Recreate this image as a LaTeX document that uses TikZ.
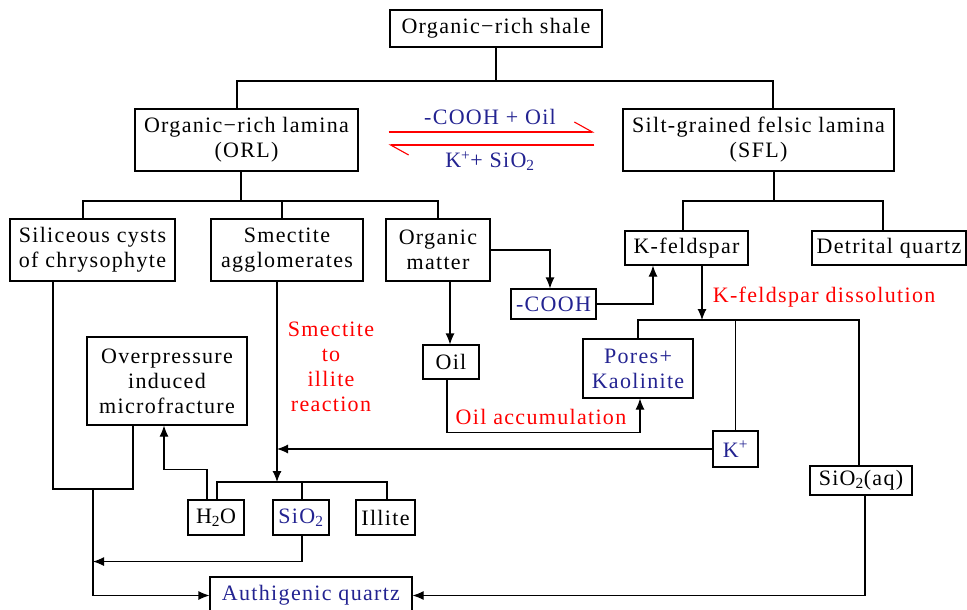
\documentclass[tikz,border=0pt]{standalone}
\usepackage{fontspec}
\setmainfont{Liberation Serif}[LetterSpace=6]
\usetikzlibrary{arrows.meta, calc}
\definecolor{ionblue}{RGB}{35,35,145}
\tikzset{box/.style={draw, rectangle, inner sep=0pt, align=center},
 arr/.style={-{Latex[length=11pt,width=9pt]}},
 harp/.style={red, -{Straight Barb[left,length=18pt,width=20pt]}},
 rxn/.style={text=red, align=center},
 ion/.style={text=ionblue}}

\begin{document}
\begin{tikzpicture}[x=1pt, y=-1pt, line width=1.1pt, font=\fontsize{22}{25}\selectfont]
 \useasboundingbox (0,0) rectangle (967,610);
 \node[box, minimum width=212, minimum height=37] (shale) at (496,28.5) {Organic−rich shale};
 \node[box, minimum width=223, minimum height=62] (orl) at (246.5,140) {Organic−rich lamina\\(ORL)};
 \node[box, minimum width=271, minimum height=62] (sfl) at (758.5,140) {Silt-grained felsic lamina\\(SFL)};
 \node[box, minimum width=165, minimum height=62] (cysts) at (92.5,250) {Siliceous cysts\\of chrysophyte};
 \node[box, minimum width=152, minimum height=62] (smect) at (287,250) {Smectite\\agglomerates};
 \node[box, minimum width=104, minimum height=62] (orgm) at (438,250) {Organic\\matter};
 \node[box, minimum width=123, minimum height=34] (kfsp) at (686.5,248) {K-feldspar};
 \node[box, minimum width=154, minimum height=34] (detq) at (889,248) {Detrital quartz};
 \node[box, ion, minimum width=85, minimum height=30] (cooh) at (553.5,304) {-COOH};
 \node[box, ion, minimum width=110, minimum height=59] (pores) at (638,368.5) {Pores+\\Kaolinite};
 \node[box, minimum width=56, minimum height=34] (oil) at (451,362) {Oil};
 \node[box, minimum width=160, minimum height=88] (overp) at (167,381) {Overpressure\\induced\\microfracture};
 \node[box, ion, minimum width=45, minimum height=36] (kion) at (735.5,449) {K\textsuperscript{+}};
 \node[box, minimum width=102, minimum height=29] (sioaq) at (861,480.5) {SiO\textsubscript{2}(aq)};
 \node[box, minimum width=56, minimum height=35] (water) at (216,517.5) {H\textsubscript{2}O};
 \node[box, ion, minimum width=56, minimum height=35] (silica) at (301,517.5) {SiO\textsubscript{2}};
 \node[box, minimum width=59, minimum height=35] (illite) at (385.5,517.5) {Illite};
 \node[box, ion, minimum width=202, minimum height=37] (quartz) at (311,595.5) {Authigenic quartz};

 \node[ion] (fwd) at (490,117) {-COOH + Oil};
 \node[ion] (bwd) at (490,161) {K\textsuperscript{+}+ SiO\textsubscript{2}};
 \node[rxn] (smill) at (331,367) {Smectite\\to\\illite\\reaction};
 \node[rxn, anchor=west] (kdis) at (709,297) {K-feldspar dissolution};
 \node[rxn] (oilacc) at (541,417) {Oil accumulation};

 \draw[harp, shorten <=30pt, shorten >=28pt] ([yshift=8pt]orl.east) -- ([yshift=8pt]sfl.west);
 \draw[harp, shorten <=28pt, shorten >=30pt] ([yshift=-5pt]sfl.west) -- ([yshift=-5pt]orl.east);

 \coordinate (bar1) at (496,81);
 \draw (shale.south) -- (bar1);
 \draw ([xshift=-9.5pt]orl.north) |- (bar1) -| ([xshift=14.5pt]sfl.north);

 \coordinate (bar2) at (241,201);
 \draw ([xshift=-5.5pt]orl.south) -- (bar2);
 \draw ([xshift=-9.5pt]cysts.north) |- (orgm.north |- bar2) -- (orgm.north);
 \draw ([xshift=-5pt]smect.north) -- ++(0,-18);

 \coordinate (bar2r) at (774,201);
 \draw ([xshift=15.5pt]sfl.south) -- (bar2r);
 \draw ([xshift=-3.5pt]kfsp.north) |- (bar2r) -| ([xshift=-6pt]detq.north);

 \draw[arr] (orgm.east) -| ([xshift=-3.5pt]cooh.north);
 \draw[arr] (cooh.east) -| ([xshift=-33.5pt]kfsp.south);

 \coordinate (bar3) at (702,320);
 \draw[arr] ([xshift=15.5pt]kfsp.south) -- (bar3);
 \draw (pores.north) |- ([xshift=-2pt]sioaq.north |- bar3) -- ([xshift=-2pt]sioaq.north);
 \draw (kion.north) -- (kion.north |- bar3);

 \draw[arr] ([xshift=12pt]orgm.south) -- ([xshift=12pt]orgm.south |- oil.north);
 \draw[arr] ([xshift=-4pt]oil.south) -- ++(0,53) -| ([xshift=2pt]pores.south);

 \coordinate (sm) at ([xshift=-10pt]smect.south);
 \coordinate (bar4) at (277,482);
 \draw[arr] (kion.west) -- (kion.west -| sm);
 \draw[arr] (sm) -- (bar4);
 \draw ([xshift=1pt]water.north) |- (bar4) -| ([xshift=1.5pt]illite.north);
 \draw ([xshift=1pt]silica.north) -- ++(0,-18);
 \draw[arr] ([xshift=-9pt]water.north) -- ++(0,-30) -| ([xshift=-3pt]overp.south);

 \coordinate (bar5) at (93,489);
 \draw ([xshift=-39.5pt]cysts.south) |- (bar5) -| ([xshift=-34pt]overp.south);
 \draw[arr] (bar5) |- (quartz.west);
 \draw[arr] ([xshift=1pt]silica.south) -- ++(0,26) coordinate (s1) -- (s1 -| bar5);
 \draw[arr] ([xshift=4pt]sioaq.south) |- (quartz.east);
\end{tikzpicture}
\end{document}
